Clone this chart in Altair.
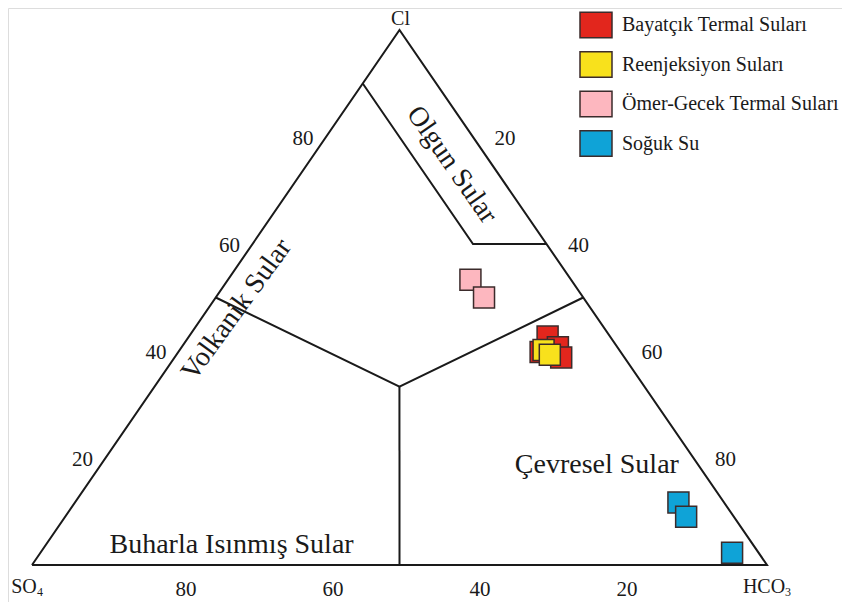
import altair as alt
import pandas as pd

# ---------------- data ----------------
series = ["Bayatçık Termal Suları", "Reenjeksiyon Suları",
          "Ömer-Gecek Termal Suları", "Soğuk Su"]
series_colors = ["#e2261d", "#f8e11c", "#fdb7bf", "#0fa3d7"]

sample_group = (["Bayatçık Termal Suları"] * 4 + ["Reenjeksiyon Suları"] * 2 +
                ["Ömer-Gecek Termal Suları"] * 2 + ["Soğuk Su"] * 3)
cl   = [42.7, 40.7, 38.8, 39.8, 40.2, 39.3, 53.3, 50.0, 11.7, 9.0, 2.3]
so4  = [8.5, 8.1, 8.6, 10.9, 10.3, 9.9, 13.7, 13.5, 6.2, 6.5, 3.6]
hco3 = [48.8, 51.2, 52.6, 49.3, 49.5, 50.8, 33.0, 36.5, 82.1, 84.5, 94.1]

tick_values = [20, 40, 60, 80]

# field boundaries (Giggenbach Cl-SO4-HCO3), ternary % (Cl, HCO3)
boundary_group = ["frame"] * 4 + ["olgun"] * 3 + ["center"] * 3 + ["stem"] * 2
boundary_cl    = [0, 0, 100, 0, 90, 60, 60, 50, 33.33, 50, 33.33, 0]
boundary_hco3  = [0, 100, 0, 0, 0, 30, 40, 0, 33.33, 50, 33.33, 50]

region_names = ["Olgun Sular", "Volkanik Sular", "Çevresel Sular", "Buharla Isınmış Sular"]
region_cl    = [74.8, 47.7, 18.7, 3.7]
region_hco3  = [19.7, 4.0, 67.5, 25.3]

# ---------------- helpers ----------------
def tx(c, h):
    return (h + c / 2.0) / 100.0

def ty(c):
    return c / 100.0

FONT = "Liberation Serif"
INK = "#1a1a1a"

W, H = 834, 594
XLO = -24 / 735
XHI = XLO + W / 735
YHI = 1 + 22 / 535
YLO = YHI - H / 535

xs = alt.Scale(domain=[XLO, XHI], nice=False, zero=False)
ys = alt.Scale(domain=[YLO, YHI], nice=False, zero=False)
X = lambda f="x": alt.X(f"{f}:Q", scale=xs, axis=None)
Y = lambda f="y": alt.Y(f"{f}:Q", scale=ys, axis=None)

# points
pts = pd.DataFrame({"grup": sample_group, "Cl": cl, "SO4": so4, "HCO3": hco3})
pts["x"] = [tx(c, h) for c, h in zip(cl, hco3)]
pts["y"] = [ty(c) for c in cl]
pts["i"] = range(len(pts))

# boundaries
bd = pd.DataFrame({"g": boundary_group, "Cl": boundary_cl, "HCO3": boundary_hco3})
bd["x"] = [tx(c, h) for c, h in zip(boundary_cl, boundary_hco3)]
bd["y"] = [ty(c) for c in boundary_cl]
bd["o"] = range(len(bd))

lines = alt.Chart(bd).mark_line(color=INK, strokeWidth=2, strokeJoin="miter").encode(
    x=X(), y=Y(), detail="g:N", order="o:Q")

points = alt.Chart(pts).mark_point(
    filled=True, shape="square", size=441, stroke="#3b2b2b", strokeWidth=1.5, opacity=1
).encode(
    x=X(), y=Y(),
    color=alt.Color("grup:N",
                    scale=alt.Scale(domain=series, range=series_colors),
                    legend=alt.Legend(
                        title=None, orient="none", legendX=571, legendY=0, padding=0,
                        symbolType="M-1,-0.8H1V0.8H-1Z", symbolSize=1024,
                        symbolStrokeColor="#3b2b2b", symbolStrokeWidth=1.5,
                        symbolOpacity=1,
                        labelFont=FONT, labelFontSize=20, labelColor=INK,
                        labelOffset=9, labelLimit=400, rowPadding=6.5)),
    order="i:Q",
)

# tick labels
left = pd.DataFrame({"v": tick_values})
left["x"] = [tx(v, 0) for v in tick_values]
left["y"] = [ty(v) for v in tick_values]
right = pd.DataFrame({"v": tick_values})
right["x"] = [tx(100 - v, v) for v in tick_values]
right["y"] = [ty(100 - v) for v in tick_values]
bottom = pd.DataFrame({"v": tick_values})
bottom["x"] = [tx(0, 100 - v) for v in tick_values]
bottom["y"] = [0.0 for v in tick_values]

def ticktext(df, dx, dy):
    return alt.Chart(df).mark_text(font=FONT, fontSize=21, color=INK, dx=dx, dy=dy,
                                   align="center", baseline="middle").encode(
        x=X(), y=Y(), text="v:Q")

tl = ticktext(left, -23, 2)
tr = ticktext(right, 32, 2)
tb = ticktext(bottom, 7, 25)

# vertex labels
vert = pd.DataFrame({"name": ["Cl", "SO", "HCO"], "sub": ["", "4", "3"],
                     "x": [tx(100, 0), tx(0, 0), tx(0, 100)],
                     "y": [ty(100), ty(0), ty(0)]})

def vlabel(row, dx, dy, field="name", size=21, baseline="middle"):
    return alt.Chart(vert.iloc[[row]]).mark_text(
        font=FONT, fontSize=size, color=INK, dx=dx, dy=dy, align="center",
        baseline=baseline).encode(x=X(), y=Y(), text=f"{field}:N")

v_cl = vlabel(0, 1, -5, size=20, baseline="alphabetic")
v_so = vlabel(1, -8, 22, size=20)
v_so_sub = vlabel(1, 8, 27, field="sub", size=12)
v_hco = vlabel(2, -3, 22, size=20)
v_hco_sub = vlabel(2, 21, 27, field="sub", size=12)

# region labels
reg = pd.DataFrame({"name": region_names, "x": [tx(c, h) for c, h in zip(region_cl, region_hco3)],
                    "y": [ty(c) for c in region_cl]})

def rlabel(row, angle):
    return alt.Chart(reg.iloc[[row]]).mark_text(
        font=FONT, fontSize=28, color=INK, angle=angle, align="center",
        baseline="middle").encode(x=X(), y=Y(), text="name:N")

r_olgun = rlabel(0, 55)
r_volk = rlabel(1, 306)
r_cev = rlabel(2, 0)
r_buh = rlabel(3, 0)

chart = alt.layer(
    lines, r_olgun, r_volk, r_cev, r_buh, points, tl, tr, tb,
    v_cl, v_so, v_so_sub, v_hco, v_hco_sub
).properties(
    width=W, height=H, padding=0, autosize=alt.AutoSizeParams(type="none")
).configure_view(stroke=None).configure(background="white")

chart.save("out.html", embed_options={"renderer": "svg", "actions": False})
